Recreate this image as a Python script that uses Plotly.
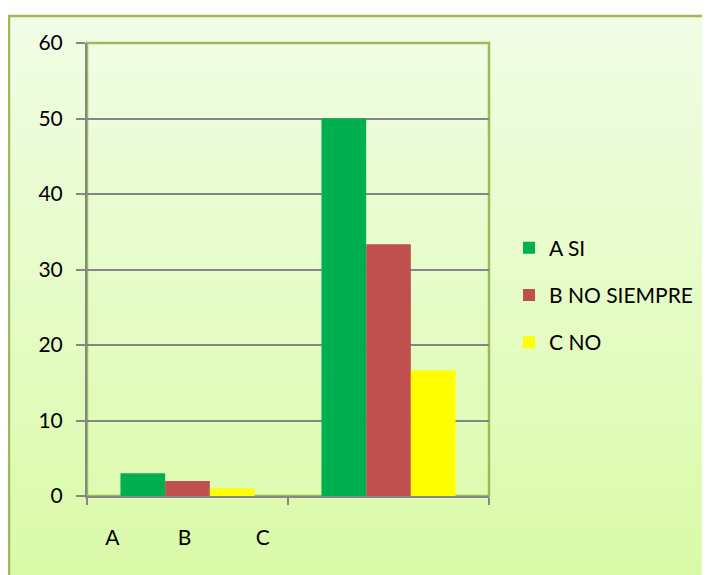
import plotly.graph_objects as go

# data
series = ["A SI", "B NO SIEMPRE", "C NO"]
colors = ["#00B050", "#C0504D", "#FFFF00"]
tick_letters = ["A", "B", "C"]
values = {
    "A SI": [3, 50],
    "B NO SIEMPRE": [2, 33.33],
    "C NO": [1, 16.67],
}

W, H = 710, 575
OFF = 8  # page body margin
L, R, T, B = 87, 489, 43, 496  # plot area, screen pixels


def px_x(p):
    return (p - L) / (R - L)


def px_y(p):
    return (B - p) / (B - T)


nb = "\u00a0"
categories = [tick_letters[0] + nb * 11 + tick_letters[1] + nb * 12 + tick_letters[2], nb]

fig = go.Figure()
for i, name in enumerate(series):
    fig.add_trace(
        go.Bar(
            x=categories,
            y=values[name],
            name=name,
            marker=dict(color=colors[i], line=dict(width=0)),
            legendgroup=name,
        )
    )

# background gradient (Excel style fill)
top = (0xF1, 0xFD, 0xE6)
bot = (0xDA, 0xFA, 0xA6)
shapes = []
n = 60
y_top, y_bot = 15, 590
for k in range(n):
    t = (k + 0.5) / n
    c = tuple(round(top[j] + (bot[j] - top[j]) * t) for j in range(3))
    p0 = y_top + (y_bot - y_top) * k / n
    p1 = y_top + (y_bot - y_top) * (k + 1) / n + 1
    shapes.append(
        dict(
            type="rect", xref="paper", yref="paper", layer="below",
            x0=px_x(8), x1=px_x(730), y0=px_y(p1), y1=px_y(p0),
            fillcolor="rgb(%d,%d,%d)" % c, line=dict(width=0),
        )
    )

# chart border
shapes.append(
    dict(
        type="rect", xref="paper", yref="paper", layer="below",
        x0=px_x(9), x1=px_x(740), y0=px_y(600), y1=px_y(16),
        fillcolor="rgba(0,0,0,0)", line=dict(color="#9BBB59", width=2.5),
    )
)
# plot area border
shapes.append(
    dict(
        type="rect", xref="paper", yref="paper", layer="between",
        x0=0, x1=1, y0=0, y1=1,
        fillcolor="rgba(0,0,0,0)", line=dict(color="#9BBB59", width=2.5),
    )
)

fnt = "Lato, Carlito, Arial"

fig.update_layout(
    width=W,
    height=H,
    margin=dict(l=L - OFF, r=W - (R - OFF), t=T - OFF, b=H - (B - OFF), pad=0),
    paper_bgcolor="white",
    plot_bgcolor="rgba(0,0,0,0)",
    font=dict(family=fnt, size=21, color="#000000"),
    barmode="group",
    bargap=0.333,
    bargroupgap=0,
    shapes=shapes,
    showlegend=True,
    legend=dict(
        x=px_x(509), xanchor="left",
        y=px_y(295), yanchor="middle",
        bgcolor="rgba(0,0,0,0)",
        font=dict(family=fnt, size=21, color="#000000"),
        tracegroupgap=17,
        itemclick=False,
    ),
    xaxis=dict(
        showline=True, linecolor="#868686", linewidth=2,
        ticks="outside", tickson="boundaries", ticklen=7, tickwidth=2, tickcolor="#868686",
        showgrid=False, ticklabelstandoff=22,
        tickfont=dict(family=fnt, size=21),
    ),
    yaxis=dict(
        range=[0, 60], dtick=10, showline=True, linecolor="#868686", linewidth=2,
        ticks="outside", ticklen=9, tickwidth=2, tickcolor="#868686",
        showgrid=True, gridcolor="#868686", gridwidth=1.5,
        zeroline=False, ticklabelstandoff=9,
        tickfont=dict(family=fnt, size=21),
    ),
)

fig.write_html("out.html")
